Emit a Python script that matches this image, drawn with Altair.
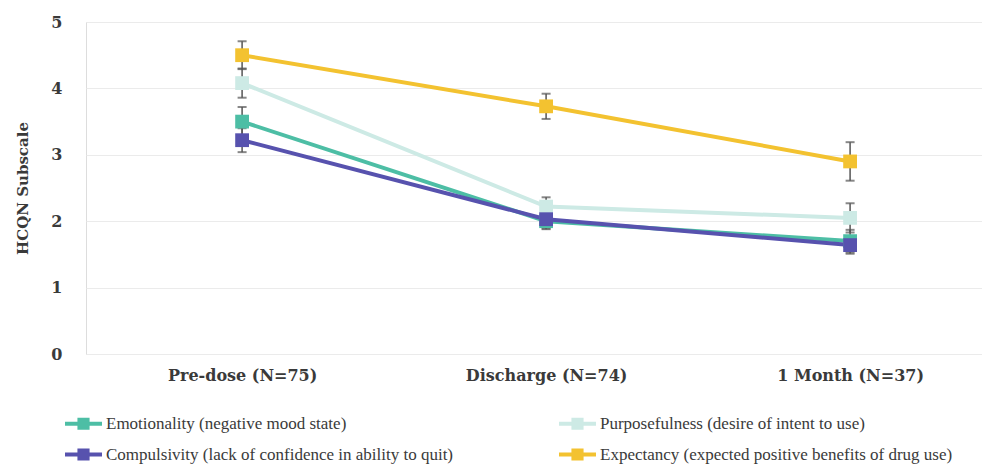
import altair as alt
import pandas as pd

timepoints = ["Pre-dose (N=75)", "Discharge (N=74)", "1 Month (N=37)"]

series_names = [
    "Emotionality (negative mood state)",
    "Purposefulness (desire of intent to use)",
    "Compulsivity (lack of confidence in ability to quit)",
    "Expectancy (expected positive benefits of drug use)",
]
series_colors = ["#4dbea5", "#cdeae5", "#5752ae", "#f3c230"]

emotionality = [3.50, 2.00, 1.70]
emotionality_err = [0.22, 0.12, 0.17]
purposefulness = [4.08, 2.22, 2.05]
purposefulness_err = [0.22, 0.14, 0.22]
compulsivity = [3.22, 2.03, 1.64]
compulsivity_err = [0.18, 0.14, 0.13]
expectancy = [4.50, 3.73, 2.90]
expectancy_err = [0.21, 0.19, 0.29]

y_ticks = [0, 1, 2, 3, 4, 5]

means = [emotionality, purposefulness, compulsivity, expectancy]
errs = [emotionality_err, purposefulness_err, compulsivity_err, expectancy_err]
draw_order = [0, 1, 2, 3]

rows = []
for name, vals, es, o in zip(series_names, means, errs, draw_order):
    for t, v, e in zip(timepoints, vals, es):
        rows.append({"series": name, "time": t, "mean": v, "lo": v - e, "hi": v + e, "ord": o})
df = pd.DataFrame(rows)

AXFONT = "DejaVu Serif"
LGFONT = "Liberation Serif"

x_scale = alt.Scale(type="point", padding=0.4737, align=0.542)
x_enc = alt.X(
    "time:N",
    sort=timepoints,
    scale=x_scale,
    axis=alt.Axis(
        title=None, labelAngle=0, domain=False, ticks=False, grid=False,
        labelFont=AXFONT, labelFontSize=16, labelFontWeight="bold",
        labelColor="#3a3a3a", labelPadding=13,
    ),
)
y_scale = alt.Scale(domain=[0, 5], nice=False, zero=True)
y_enc = alt.Y(
    "mean:Q",
    scale=y_scale,
    axis=alt.Axis(
        title="HCQN Subscale", values=y_ticks, format="d", domain=False, ticks=False,
        grid=True, gridColor="#ebebeb", gridWidth=1,
        labelFont=AXFONT, labelFontSize=16, labelFontWeight="bold", labelColor="#3a3a3a",
        labelPadding=24, titleFont=AXFONT, titleFontSize=15, titleFontWeight="bold",
        titleColor="#3a3a3a", titlePadding=20,
    ),
)

color_scale = alt.Scale(domain=series_names, range=series_colors)

base = alt.Chart(df)

err_rule = base.mark_rule(color="#555555", strokeWidth=1.5).encode(
    x=x_enc, y=alt.Y("lo:Q", scale=y_scale), y2="hi:Q"
)
err_top = base.mark_tick(color="#555555", thickness=2, size=9).encode(
    x=x_enc, y=alt.Y("hi:Q", scale=y_scale)
)
err_bot = base.mark_tick(color="#555555", thickness=2, size=9).encode(
    x=x_enc, y=alt.Y("lo:Q", scale=y_scale)
)

lines = base.mark_line(strokeWidth=4).encode(
    x=x_enc, y=y_enc,
    color=alt.Color("series:N", scale=color_scale, legend=None),
    order="ord:Q",
)

legend = alt.Legend(
    title=None, orient="none", legendX=-17, legendY=387, columns=2,
    direction="horizontal", columnPadding=97, rowPadding=4,
    labelFont=LGFONT, labelFontSize=17, labelColor="#3a3a3a", labelLimit=500,
    symbolType="M-1.5,0H1.5M-0.33,-0.33H0.33V0.33H-0.33Z", symbolSize=608,
    symbolStrokeWidth=4, symbolOpacity=1, labelOffset=8,
)

points = base.mark_point(shape="square", filled=True, size=190, opacity=1, strokeWidth=0).encode(
    x=x_enc, y=y_enc,
    fill=alt.Fill("series:N", scale=color_scale, sort=series_names, legend=legend),
    stroke=alt.Stroke("series:N", scale=color_scale, sort=series_names, legend=legend),
)

chart = (
    alt.layer(err_rule, err_top, err_bot, lines, points)
    .resolve_scale(color="independent")
    .properties(
        width=896, height=332,
        autosize=alt.AutoSizeParams(type="none"),
        padding={"left": 78, "top": 14, "right": 0, "bottom": 112},
    )
    .configure_view(strokeWidth=0)
    .configure(background="white")
)

chart.save("out.html", embed_options={"renderer": "svg", "actions": False})
